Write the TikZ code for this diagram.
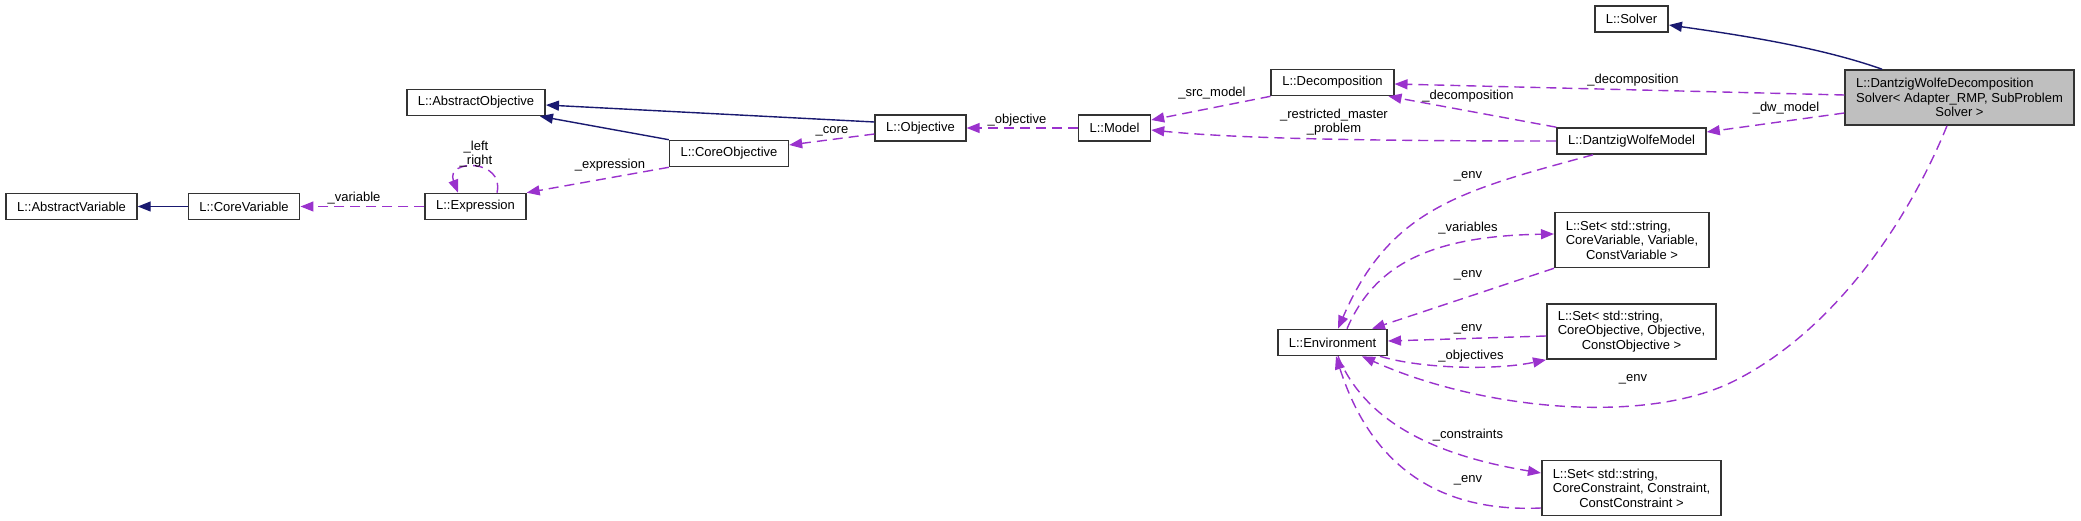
\documentclass[tikz,border=0pt]{standalone}
\usepackage{fontspec}
\setmainfont{Liberation Sans}
\usepackage{calc}
\usetikzlibrary{arrows.meta}
\definecolor{navyedge}{HTML}{191970}
\definecolor{purpleedge}{HTML}{9A32CD}
\definecolor{boxgray}{HTML}{BFBFBF}
\begin{document}
\begin{tikzpicture}[x=1pt,y=-1pt,
  font=\fontsize{13pt}{14.5pt}\selectfont,
  cls/.style={draw=black!80, line width=1.6pt, fill=white, inner xsep=11pt, inner ysep=6pt, minimum height=26pt, align=center},
  multi/.style={cls, minimum height=55pt},
  inh/.style={draw=navyedge, line width=1.4pt, -{Triangle[length=13pt,width=10pt]}},
  use/.style={draw=purpleedge, line width=1.4pt, dash pattern=on 10pt off 6pt, -{Triangle[length=13pt,width=10pt]}},
  lbl/.style={inner sep=0pt, align=center}]
\useasboundingbox (0,0) rectangle (2081,521);

% classes
\node[cls] (absvar) at (71.5,206.5) {L::AbstractVariable};
\node[cls] (corevar) at (244,206.5) {L::CoreVariable};
\node[cls] (expr) at (475.5,206.5) {L::Expression};
\node[cls] (absobj) at (476,102.5) {L::AbstractObjective};
\node[cls] (coreobj) at (729,153.5) {L::CoreObjective};
\node[cls] (objective) at (920.5,128) {L::Objective};
\node[cls] (model) at (1114.5,128) {L::Model};
\node[cls] (decomp) at (1332.5,82.5) {L::Decomposition};
\node[cls] (dwmodel) at (1631.5,141) {L::DantzigWolfeModel};
\node[cls] (solver) at (1631.5,19) {L::Solver};
\node[multi, fill=boxgray] (dwdsolver) at (1959.5,97.5)
  {\makebox[\widthof{Solver< Adapter\_RMP, SubProblem}][l]{L::DantzigWolfeDecomposition}\\Solver< Adapter\_RMP, SubProblem\\Solver >};
\node[multi] (setvar) at (1632,240)
  {\makebox[\widthof{CoreVariable, Variable,}][l]{L::Set< std::string,}\\CoreVariable, Variable,\\ConstVariable >};
\node[multi] (setobj) at (1631.5,331.5)
  {\makebox[\widthof{CoreObjective, Objective,}][l]{L::Set< std::string,}\\CoreObjective, Objective,\\ConstObjective >};
\node[cls] (env) at (1332.5,342.5) {L::Environment};
\node[multi] (setcons) at (1631.5,488)
  {\makebox[\widthof{CoreConstraint, Constraint,}][l]{L::Set< std::string,}\\CoreConstraint, Constraint,\\ConstConstraint >};

% inheritance
\draw[inh] (corevar) -- (absvar);
\draw[inh] (coreobj.north west) -- ([xshift=-6pt]absobj.south east);
\draw[inh] ([yshift=6pt]objective.west) -- ([yshift=-2.5pt]absobj.east);
\draw[inh] ([xshift=-77.5pt]dwdsolver.north) .. controls +(-62,-22) and +(71,10) .. ([yshift=-6pt]solver.east);

% usage
\draw[use] (expr) -- (corevar);
\draw[use] ([xshift=21.5pt]expr.north) .. controls +(8,-34) and +(-13,-34) .. ([xshift=-17.5pt]expr.north);
\draw[use] (coreobj.south west) -- (expr.north east);
\draw[use] ([yshift=-6pt]objective.west) -- ([yshift=8.5pt]coreobj.east);
\draw[use] (model) -- (objective);
\draw[use] (decomp.south west) -- ([yshift=8pt]model.east);
\draw[use] (dwmodel.west) .. controls +(-206,0) and +(79,8) .. ([yshift=-2pt]model.east);
\draw[use] (dwmodel.north west) -- ([xshift=-6pt]decomp.south east);
\draw[use] ([yshift=2.5pt]dwdsolver.west) -- ([yshift=-1.5pt]decomp.east);
\draw[use] ([yshift=-15.5pt]dwdsolver.west) -- ([yshift=9pt]dwmodel.east);
\draw[use] ([xshift=-38.5pt]dwmodel.south) .. controls +(-133,36) and +(52,-120) .. ([xshift=5.5pt]env.north);
\draw[use] ([xshift=14.5pt]env.north) .. controls +(28,-65) and +(-122,2) .. ([yshift=6pt]setvar.west);
\draw[use] (setvar.south west) -- ([xshift=39.5pt]env.north);
\draw[use] ([yshift=-4.5pt]setobj.west) -- ([yshift=1.5pt]env.east);
\draw[use] ([xshift=-8pt]env.south east) .. controls +(40,12) and +(-53,11) .. (setobj.south west);
\draw[use] ([xshift=-12.5pt]dwdsolver.south) .. controls +(-47,115) and +(90,-43) .. (1730,383)
  .. controls +(-90,42) and +(118,53) .. ([xshift=29.5pt]env.south);
\draw[use] ([xshift=5.5pt]env.south) .. controls +(27,65) and +(-108,-18) .. ([yshift=15pt]setcons.west);
\draw[use] ([yshift=-20pt]setcons.west) .. controls +(-88,4) and +(39,122) .. ([xshift=3.5pt]env.south);

% labels
\node[lbl] (l1) at (354,198) {\_variable};
\node[lbl] (l2) at (476,154) {\_left\\\_right};
\node[lbl] (l3) at (610,165) {\_expression};
\node[lbl] (l4) at (832,131) {\_core};
\node[lbl] (l5) at (1017,120) {\_objective};
\node[lbl] (l6) at (1212,93) {\_src\_model};
\node[lbl] (l7) at (1334,122) {\_restricted\_master\\\_problem};
\node[lbl] (l8) at (1468,96) {\_decomposition};
\node[lbl] (l9) at (1633,80) {\_decomposition};
\node[lbl] (l10) at (1786,108) {\_dw\_model};
\node[lbl] (l11) at (1468,176) {\_env};
\node[lbl] (l12) at (1468,228) {\_variables};
\node[lbl] (l13) at (1468,275) {\_env};
\node[lbl] (l14) at (1468,329) {\_env};
\node[lbl] (l15) at (1471,356) {\_objectives};
\node[lbl] (l16) at (1633,379) {\_env};
\node[lbl] (l17) at (1468,435) {\_constraints};
\node[lbl] (l18) at (1468,480) {\_env};
\end{tikzpicture}
\end{document}
